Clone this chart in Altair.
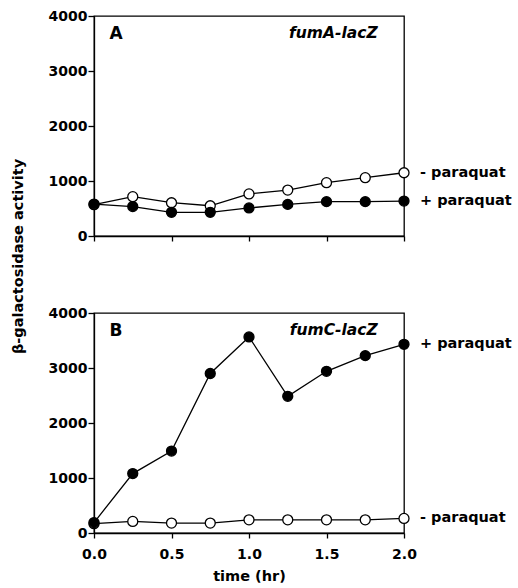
import altair as alt
import pandas as pd

# ---------------- data ----------------
time_hr = [0.0, 0.25, 0.5, 0.75, 1.0, 1.25, 1.5, 1.75, 2.0]

# Panel A: fumA-lacZ
a_minus = [570, 715, 605, 550, 765, 835, 970, 1060, 1150]
a_plus = [580, 535, 430, 430, 510, 575, 625, 625, 635]

# Panel B: fumC-lacZ
b_plus = [190, 1080, 1490, 2900, 3565, 2485, 2940, 3225, 3430]
b_minus = [170, 210, 180, 180, 240, 240, 240, 240, 265]

series_labels = ["- paraquat", "+ paraquat"]
panel_letters = ["A", "B"]
panel_constructs = ["fumA-lacZ", "fumC-lacZ"]
letter_pos = [0.1, 3670]      # (time, value) of panel letter
construct_pos = [1.83, 3690]  # (time, value) of construct name (right aligned)

y_ticks = [0, 500, 1000, 1500, 2000, 2500, 3000, 3500, 4000]
x_ticks = [0.0, 0.5, 1.0, 1.5, 2.0]
y_title = "β-galactosidase activity"
x_title = "time (hr)"

FONT = "DejaVu Sans"
W, H = 310, 220


def make_panel(minus, plus, letter, construct, bottom):
    rows = []
    for t, m, p in zip(time_hr, minus, plus):
        rows.append({"time": t, "value": m, "treatment": "minus"})
        rows.append({"time": t, "value": p, "treatment": "plus"})
    df = pd.DataFrame(rows)

    xscale = alt.Scale(domain=[0, 2], nice=False, zero=False)
    yscale = alt.Scale(domain=[0, 4000], nice=False)

    if bottom:
        xaxis = alt.Axis(values=x_ticks, format=".1f", title=x_title, tickSize=5,
                         labelFont=FONT, labelFontWeight="bold", labelFontSize=14,
                         labelPadding=9, titleFont=FONT, titleFontWeight="bold",
                         titleFontSize=14.5, titlePadding=8, labelFlush=False)
        yaxis = alt.Axis(values=y_ticks, format="d",
                         labelExpr="datum.value % 1000 === 0 ? datum.label : ''",
                         tickSize={"condition": {"test": "datum.value % 1000 === 0", "value": 6}, "value": 3},
                         labelFont=FONT, labelFontWeight="bold", labelFontSize=14,
                         labelPadding=1, title=y_title, titleX=-83, titleY=-57,
                         titleAngle=270, titleBaseline="top", titleAlign="center",
                         titleFont=FONT, titleFontWeight="bold", titleFontSize=14.5)
    else:
        xaxis = alt.Axis(values=x_ticks, labels=False, title=None, tickSize=5)
        yaxis = alt.Axis(values=y_ticks, format="d",
                         labelExpr="datum.value % 1000 === 0 ? datum.label : ''",
                         tickSize={"condition": {"test": "datum.value % 1000 === 0", "value": 6}, "value": 3},
                         labelFont=FONT, labelFontWeight="bold", labelFontSize=14,
                         labelPadding=1, title=None)

    base = alt.Chart(df).encode(
        x=alt.X("time:Q", scale=xscale, axis=xaxis),
        y=alt.Y("value:Q", scale=yscale, axis=yaxis),
    )
    lines = base.mark_line(color="black", strokeWidth=1.3).encode(detail="treatment:N")
    open_pts = base.transform_filter("datum.treatment == 'minus'").mark_circle(
        fill="white", stroke="black", strokeWidth=1.3, size=100, opacity=1)
    filled_pts = base.transform_filter("datum.treatment == 'plus'").mark_circle(
        fill="black", stroke="black", strokeWidth=1.3, size=100, opacity=1)

    end_df = pd.DataFrame({
        "time": [time_hr[-1], time_hr[-1]],
        "value": [minus[-1], plus[-1]],
        "label": series_labels,
    })
    end_labels = alt.Chart(end_df).mark_text(
        align="left", baseline="middle", dx=16, font=FONT, fontWeight="bold",
        fontSize=14.5, color="black").encode(
        x=alt.X("time:Q", scale=xscale), y=alt.Y("value:Q", scale=yscale), text="label:N")

    let_df = pd.DataFrame({"time": [letter_pos[0]], "value": [letter_pos[1]], "label": [letter]})
    let_t = alt.Chart(let_df).mark_text(
        align="left", baseline="middle", font=FONT, fontWeight="bold", fontSize=17,
        color="black").encode(
        x=alt.X("time:Q", scale=xscale), y=alt.Y("value:Q", scale=yscale), text="label:N")

    con_df = pd.DataFrame({"time": [construct_pos[0]], "value": [construct_pos[1]], "label": [construct]})
    con_t = alt.Chart(con_df).mark_text(
        align="right", baseline="middle", font=FONT, fontWeight="bold", fontStyle="italic",
        fontSize=15.5, color="black").encode(
        x=alt.X("time:Q", scale=xscale), y=alt.Y("value:Q", scale=yscale), text="label:N")

    return alt.layer(lines, open_pts, filled_pts, end_labels, let_t, con_t).properties(
        width=W, height=H)


panel_a = make_panel(a_minus, a_plus, panel_letters[0], panel_constructs[0], bottom=False)
panel_b = make_panel(b_minus, b_plus, panel_letters[1], panel_constructs[1], bottom=True)

chart = alt.vconcat(panel_a, panel_b, spacing=77, bounds="flush").properties(
    padding={"left": 9, "top": 8, "right": 5, "bottom": 1},
    background="white",
).configure_view(
    stroke="black", strokeWidth=1.3
).configure_axis(
    domainColor="black", tickColor="black", domainWidth=1.3, tickWidth=1.3,
    grid=False, labelColor="black", titleColor="black"
)

chart.save("out.html", embed_options={"renderer": "svg", "actions": False})
